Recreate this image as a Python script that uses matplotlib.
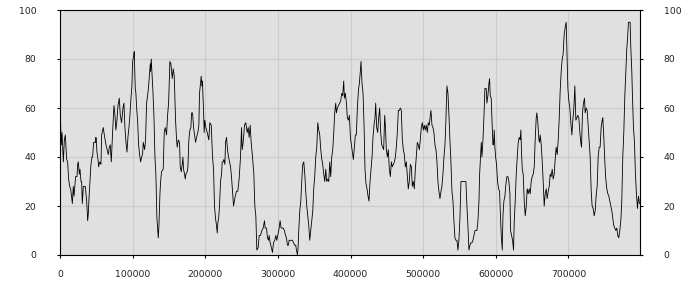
import numpy as np
import matplotlib
matplotlib.use('Agg')
import matplotlib.pyplot as plt
from matplotlib.ticker import FuncFormatter

# sample positions (thousands) and values
x_k = [0.9, 1.8, 2.8, 3.7, 4.6, 6.0, 7.3, 9.2, 10.5, 11.9, 13.3, 14.7, 17.0, 18.3, 19.3,
       21.5, 23.4, 24.3, 25.2, 26.6, 27.5, 28.9, 29.8, 30.7, 32.1, 34.8, 35.8, 36.7, 38.1,
       39.0, 39.9, 41.3, 42.6, 44.0, 44.9, 46.3, 49.1, 49.5, 50.9, 52.3, 53.2, 54.6, 56.4,
       57.3, 59.6, 61.0, 63.3, 65.6, 66.5, 67.9, 69.2, 70.6, 72.4, 74.3, 75.7, 77.0, 78.4,
       79.8, 81.6, 83.0, 84.8, 86.7, 88.0, 89.4, 90.8, 92.2, 93.5, 94.9, 96.3, 97.7, 99.0,
       100.0, 101.3, 102.2, 103.6, 104.5, 105.5, 106.8, 108.2, 109.6, 111.0, 112.3, 113.7,
       114.6, 116.5, 117.8, 119.2, 120.6, 122.0, 123.3, 124.3, 124.7, 125.6, 127.0, 127.9,
       129.3, 130.7, 132.0, 133.4, 134.8, 135.3, 136.2, 137.6, 138.5, 139.8, 142.1, 143.5,
       144.9, 146.7, 148.1, 149.5, 151.3, 152.7, 154.5, 155.9, 157.3, 159.1, 160.5, 161.4,
       162.8, 164.6, 165.5, 166.9, 168.3, 169.2, 170.1, 171.5, 172.4, 173.3, 175.1, 176.1,
       177.4, 178.8, 180.2, 181.1, 182.5, 183.9, 184.8, 186.6, 188.0, 189.8, 191.2, 192.1,
       193.5, 194.4, 195.3, 196.2, 196.7, 197.6, 198.5, 199.4, 200.8, 202.7, 204.9, 206.3,
       208.2, 210.0, 211.4, 212.7, 214.1, 215.5, 216.4, 217.3, 218.7, 219.6, 221.0, 222.4,
       223.3, 224.7, 225.6, 227.0, 227.9, 229.3, 230.6, 232.0, 233.4, 234.8, 236.1, 237.5,
       238.9,
       241.2, 243.0, 244.8, 246.6, 248.5, 249.9, 250.8, 252.2, 254.0, 255.8, 257.7, 259.1,
       260.4, 261.8, 263.2, 265.0, 266.9, 268.2, 269.6, 271.0, 272.8, 274.2, 276.0, 277.9,
       279.7, 281.5, 282.4, 284.3, 285.6, 287.0, 287.9, 289.3, 291.1, 292.5, 293.9, 295.7,
       297.1, 298.5, 299.8, 301.7, 303.0, 304.4, 307.2, 309.0, 310.4, 311.8, 313.1, 314.5,
       315.4, 317.3, 320.0, 321.4, 323.2, 324.6, 325.5, 326.9, 327.8, 328.7, 330.1, 331.5,
       332.8, 334.2, 335.6, 337.0, 338.3, 339.7, 341.1, 342.5, 343.8, 345.2, 346.6, 348.0,
       349.3, 350.7, 352.1, 353.5, 354.9, 356.2, 357.6, 359.0, 360.4, 361.7, 363.1, 364.5,
       365.9, 367.2, 368.6, 370.0, 371.4, 372.7, 374.1, 375.5, 376.9, 378.2, 379.6, 380.5,
       381.9, 383.3, 385.1, 386.5, 387.9, 389.2, 390.6, 391.5, 392.9, 394.3, 395.6, 397.0,
       398.4, 399.8, 401.1, 402.5, 403.9, 405.3, 406.6, 408.0, 409.4, 410.8, 412.1, 413.5,
       414.4, 415.8, 417.2, 418.6, 419.9, 421.3, 422.7, 424.1, 425.4, 426.8, 428.2, 429.6,
       430.9, 432.3, 433.7, 434.6, 436.0, 437.4, 438.7, 440.1, 441.5, 442.9, 444.2, 445.6,
       447.0, 447.9, 449.3, 450.7, 452.0, 453.4, 454.8, 456.2, 457.5, 458.9, 460.3, 461.7,
       463.0, 464.4, 465.8, 467.2, 468.5, 469.9, 471.3, 472.7, 474.0, 475.4, 476.8, 478.2,
       479.5, 480.9, 482.3, 483.7, 485.0, 486.4, 487.8, 489.2, 490.5, 491.9, 493.3, 494.7,
       496.0, 497.4, 498.8, 500.2, 501.5, 502.9, 504.3, 505.7, 507.0, 508.4, 509.8, 510.7,
       512.1, 513.5, 514.8, 516.2, 517.6, 519.0, 520.3, 521.7, 523.1, 524.5, 525.8, 527.2,
       528.6, 530.0, 531.3, 532.7, 534.1, 535.5, 536.8, 538.2, 539.6, 541.0, 542.3, 543.7,
       545.1, 546.5, 547.8, 549.2, 550.6, 552.0, 558.8, 560.2, 561.6, 563.0,
       564.4, 565.8, 567.1, 568.5, 569.9, 571.3, 572.6, 574.0, 575.4, 576.8, 577.7, 579.0,
       580.0, 580.9, 582.3, 583.6, 585.0, 586.8, 587.7, 589.1, 590.5, 591.4, 592.3, 593.7,
       594.6, 596.0, 596.9, 597.8, 598.7, 599.7, 601.0, 602.4, 603.8, 605.2, 606.1, 607.5,
       608.9, 609.8, 611.1, 612.5, 613.9, 615.3, 616.6, 618.0, 619.4, 620.3, 621.7, 623.1,
       624.4, 625.4, 626.7, 628.1, 629.5, 630.9, 632.2, 633.6, 634.5, 635.4, 636.4, 637.7,
       639.1, 640.5, 641.9, 643.2, 644.6, 646.0, 647.4, 648.7, 650.1, 651.5, 652.9, 654.2,
       655.6, 656.5, 657.9, 659.3, 660.2, 661.1, 662.5, 663.9, 665.2, 666.6, 668.0, 669.4,
       670.7, 672.1, 673.5, 674.9, 676.2, 677.6, 679.0, 680.4, 681.7, 683.1, 684.5, 685.9,
       687.2, 688.6, 690.0, 691.4, 692.7, 694.1, 695.5, 696.9, 697.8, 699.2, 700.5, 701.9,
       703.3, 704.7, 706.0, 707.4, 708.8, 710.2, 711.5, 712.9, 714.3, 715.7, 717.0, 718.0,
       719.3, 720.7, 722.1, 723.0, 724.4, 725.8, 727.1, 728.5, 729.9, 731.3, 732.6, 734.0,
       735.4, 736.8, 738.1, 739.5, 740.9, 742.3, 743.6, 745.0, 746.4, 747.3, 748.7, 750.1,
       751.4, 752.8, 754.2, 755.6, 756.9, 758.3, 759.7, 761.1, 762.4, 763.8, 765.2, 766.6,
       767.9, 769.3, 770.7, 772.1, 773.4, 774.8, 776.2, 777.6, 778.9, 780.3, 781.7, 782.6,
       784.9, 785.8, 787.2, 788.1, 789.5, 790.9, 792.2, 793.6, 795.0, 796.4, 797.8]

values = [53, 45, 50, 44, 38, 47, 49, 39, 38, 31, 28, 27, 21, 28, 24,
          32, 32, 37, 38, 33, 35, 30, 30, 21, 28, 28, 25, 22, 14,
          17, 23, 30, 37, 40, 40, 46, 46, 48, 42, 39, 36, 38, 37,
          49, 52, 49, 45, 42, 41, 44, 45, 38, 50, 61, 57, 51, 55,
          61, 64, 57, 54, 60, 62, 52, 46, 42, 48, 52, 57, 64, 69,
          79, 81, 83, 68, 66, 60, 55, 45, 41, 38, 40, 41,
          46, 43, 47, 62, 65, 69, 74, 78, 75, 80, 72, 67,
          57, 40, 33, 15, 9, 7, 12, 25, 30, 34, 35, 50,
          52, 49, 57, 62, 79, 78, 72, 76, 73, 55, 47, 44,
          47, 46, 36, 34, 37, 40, 35, 33, 31, 33, 34, 36,
          47, 51, 52, 58, 58, 52, 50, 46, 48, 50, 53, 66,
          70, 73, 69, 71, 66, 59, 50, 55, 52, 50, 47, 54,
          53, 40, 35, 20, 15, 12, 9, 13, 16, 20, 30, 33,
          38, 38, 39, 37, 46, 48, 43, 40, 38, 36, 32, 26,
          20,
          24, 26, 26, 31, 40, 52, 43, 46, 53, 54, 50, 52,
          48, 53, 46, 40, 33, 20, 16, 2, 3, 8, 8, 10,
          11, 14, 11, 11, 7, 6, 8, 5, 3, 1, 5, 6,
          8, 6, 8, 11, 14, 11, 11, 10, 8, 7, 4, 4,
          6, 6, 6, 5, 4, 4, 2, 0, 3, 10, 18, 22,
          30, 37, 38, 33, 26, 20, 16, 12, 6, 10, 14, 18,
          27, 32, 40, 44, 54, 51, 49, 43, 39, 37, 33, 30,
          35, 30, 31, 30, 38, 32, 40, 43, 50, 58, 62, 58,
          60, 61, 62, 63, 66, 65, 71, 64, 66, 62, 56, 55,
          57, 48, 45, 42, 39, 44, 49, 49, 60, 67, 70, 75,
          79, 70, 66, 53, 35, 29, 27, 24, 22, 30, 35, 40,
          48, 53, 56, 62, 52, 50, 56, 60, 50, 45, 44, 43,
          57, 53, 43, 40, 43, 35, 32, 38, 36, 37, 38, 40,
          44, 50, 59, 59, 60, 59, 47, 43, 41, 36, 38, 32,
          27, 30, 37, 36, 28, 30, 27, 35, 40, 46, 45, 43,
          47, 52, 54, 51, 53, 51, 53, 50, 54, 53, 57, 59,
          53, 52, 50, 45, 43, 38, 30, 26, 23, 26, 28, 33,
          40, 45, 55, 69, 66, 57, 47, 38, 26, 22, 14, 7,
          6, 6, 2, 6, 15, 30, 30, 20, 12, 2,
          4, 5, 5, 6, 8, 10, 10, 10, 14, 22, 33, 40,
          46, 40, 47, 56, 68, 68, 62, 65, 70, 72, 65, 64,
          56, 45, 45, 51, 44, 40, 37, 30, 27, 26, 18, 8,
          2, 16, 22, 24, 29, 32, 32, 30, 25, 10, 8, 6,
          2, 14, 22, 33, 40, 46, 48, 47, 51, 42, 35, 33,
          22, 16, 20, 27, 25, 27, 25, 30, 32, 33, 36, 47,
          56, 58, 54, 47, 46, 49, 45, 38, 30, 20, 25, 27,
          23, 26, 28, 33, 32, 35, 31, 33, 39, 44, 41, 47,
          55, 67, 75, 80, 82, 90, 93, 95, 85, 68, 63, 60,
          54, 49, 55, 60, 69, 55, 56, 57, 56, 50, 46, 44,
          58, 62, 64, 58, 60, 59, 53, 47, 40, 26, 20, 19,
          16, 18, 24, 28, 40, 44, 44, 52, 55, 56, 48, 38,
          31, 27, 25, 24, 22, 20, 18, 15, 12, 11, 10, 11,
          8, 7, 10, 14, 22, 40, 50, 65, 74, 84, 90, 95,
          95, 85, 75, 65, 52, 46, 33, 25, 19, 24, 21]

x_ticks = [0, 100000, 200000, 300000, 400000, 500000, 600000, 700000]
y_ticks = [0, 20, 40, 60, 80, 100]

x = np.array(x_k) * 1000

fig = plt.figure(figsize=(7, 3), dpi=100)
ax = fig.add_axes([60 / 700, 45 / 300, 580 / 700, 245 / 300])
ax.set_facecolor('#e0e0e0')
ax.plot(x, values, color='black', lw=0.6, antialiased=True, zorder=3)

ax.set_xlim(0, 798500)
ax.set_ylim(0, 100)
ax.set_xticks(x_ticks)
ax.set_yticks(y_ticks)
ax.xaxis.set_major_formatter(FuncFormatter(lambda v, p: f'{int(v)}'))
ax.grid(True, color='#cccccc', lw=0.8)
ax.set_axisbelow(True)

for s in ax.spines.values():
    s.set_color('black')
    s.set_linewidth(0.8)

ax.tick_params(axis='both', direction='out', length=2, width=0.8, labelsize=6.7,
               labelcolor='#222222')
ax.tick_params(axis='y', left=True, right=True, labelleft=True, labelright=True)
ax.tick_params(axis='y', which='major', pad=15)
ax.tick_params(axis='x', pad=9)

fig.savefig('out.png', dpi=100)
